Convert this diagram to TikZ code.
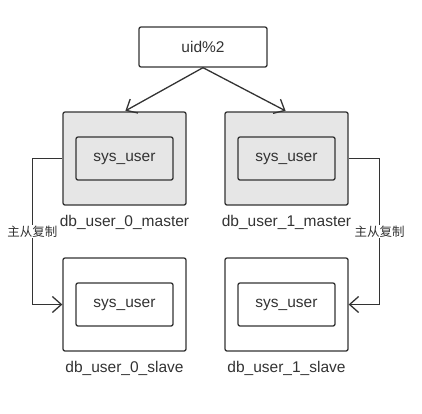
\documentclass[tikz,border=0pt]{standalone}
\usepackage{fontspec}
\setmainfont{Liberation Sans}
\newfontfamily\cjk{Noto Sans CJK SC}
\usetikzlibrary{arrows.meta,positioning}
\definecolor{ink}{HTML}{333333}
\definecolor{dbfill}{HTML}{E6E6E6}
\tikzset{
  box/.style={draw=ink,line width=1.3pt,rounded corners=2pt,text=ink,
    font=\fontsize{15.5}{17}\selectfont,inner sep=0pt},
  dbbox/.style={box,minimum width=123pt,minimum height=93pt},
  tblbox/.style={box,minimum width=97pt,minimum height=43pt},
  dblabel/.style={text=ink,font=\fontsize{15.5}{17}\selectfont,inner sep=0pt},
  link/.style={draw=ink,line width=1.3pt,
    -{Straight Barb[length=9pt,width=16pt,line width=1.3pt]}},
  repl/.style={link,rounded corners=0pt},
  repllabel/.style={fill=white,text=ink,inner sep=1pt,
    font=\cjk\fontsize{12.5}{14}\selectfont}
}
\begin{document}
\begin{tikzpicture}[x=1pt,y=-1pt]
\useasboundingbox (0,0) rectangle (422,413);
% router
\node[box,minimum width=128pt,minimum height=40pt] (uid) at (203,47) {uid\%2};
% masters
\node[dbbox,fill=dbfill] (m0) at (124.5,158.5) {};
\node[dbbox,fill=dbfill] (m1) at (286.5,158.5) {};
\node[tblbox,fill=dbfill] (t0) at (m0.center) {sys\_user};
\node[tblbox,fill=dbfill] (t1) at (m1.center) {sys\_user};
\node[dblabel,below=9pt of m0] (lm0) {db\_user\_0\_master};
\node[dblabel,below=9pt of m1] (lm1) {db\_user\_1\_master};
% slaves
\node[dbbox] (s0) at (124.5,304.5) {};
\node[dbbox] (s1) at (286.5,304.5) {};
\node[tblbox] (u0) at (s0.center) {sys\_user};
\node[tblbox] (u1) at (s1.center) {sys\_user};
\node[dblabel,below=9pt of s0] (ls0) {db\_user\_0\_slave};
\node[dblabel,below=9pt of s1] (ls1) {db\_user\_1\_slave};
% sharding
\draw[link,shorten >=1pt] (uid.south) -- (m0.north);
\draw[link,shorten >=1pt] (uid.south) -- (m1.north);
% replication
\draw[repl] (m0.west) -- ++(-30,0) |- node[pos=0.25,repllabel] {主从复制} (s0.west);
\draw[repl] (m1.east) -- ++(31,0) |- node[pos=0.25,repllabel] {主从复制} (s1.east);
\end{tikzpicture}
\end{document}
